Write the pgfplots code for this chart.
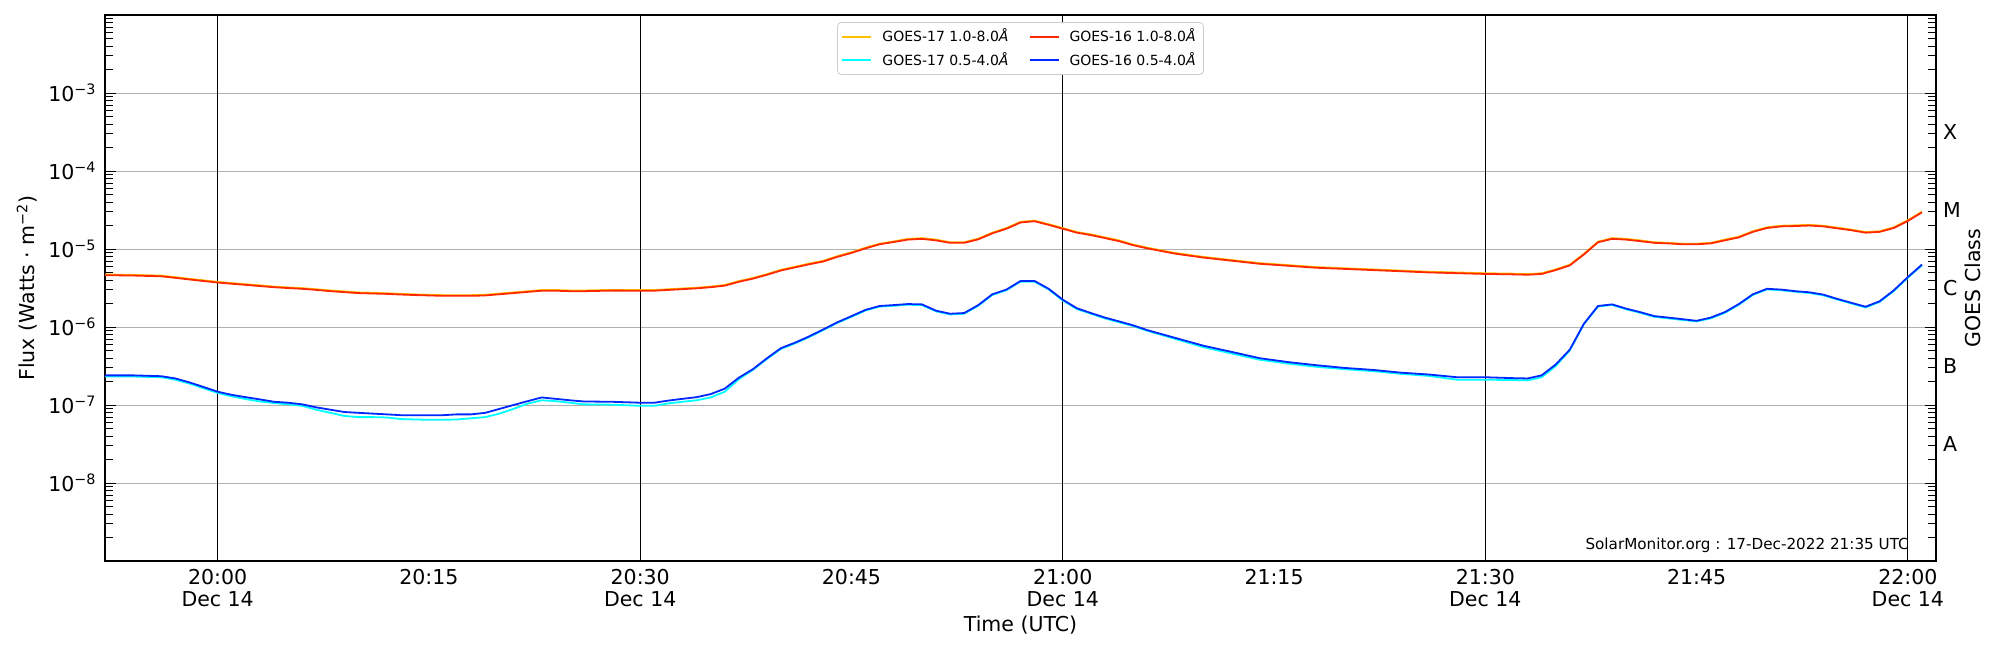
\documentclass[border=0pt]{standalone}
\usepackage{fontspec}
\setmainfont{DejaVu Sans}
\usepackage{pgfplots}
\pgfplotsset{compat=1.18}
\usepackage{pgfplotstable}
\definecolor{gorange}{RGB}{255,192,0}
\definecolor{gred}{RGB}{255,40,0}
\definecolor{gblue}{RGB}{0,40,255}
\definecolor{gcyan}{RGB}{0,255,255}
\definecolor{ggrid}{RGB}{176,176,176}

% t = minutes after 20:00 UTC; r = GOES-16 1-8, o = GOES-17 1-8, b = GOES-16 0.5-4, c = GOES-17 0.5-4
\pgfplotstableread{
t r o b c
-8 4.62e-6 4.71e-6 2.40e-7 2.32e-7
-6 4.57e-6 4.66e-6 2.40e-7 2.32e-7
-4 4.47e-6 4.56e-6 2.34e-7 2.27e-7
-3 4.27e-6 4.35e-6 2.19e-7 2.11e-7
-2 4.07e-6 4.15e-6 1.95e-7 1.88e-7
-1 3.89e-6 3.97e-6 1.70e-7 1.64e-7
0 3.72e-6 3.79e-6 1.48e-7 1.43e-7
1 3.59e-6 3.66e-6 1.35e-7 1.29e-7
2 3.47e-6 3.54e-6 1.26e-7 1.19e-7
3 3.35e-6 3.42e-6 1.18e-7 1.11e-7
4 3.24e-6 3.30e-6 1.10e-7 1.06e-7
5 3.16e-6 3.22e-6 1.07e-7 1.02e-7
6 3.09e-6 3.15e-6 1.02e-7 9.77e-8
7 2.99e-6 3.05e-6 9.33e-8 8.71e-8
8 2.88e-6 2.94e-6 8.71e-8 7.94e-8
9 2.80e-6 2.86e-6 8.13e-8 7.24e-8
10 2.72e-6 2.78e-6 7.94e-8 7.00e-8
11 2.69e-6 2.75e-6 7.76e-8 7.00e-8
12 2.66e-6 2.71e-6 7.59e-8 6.92e-8
13 2.61e-6 2.66e-6 7.41e-8 6.61e-8
14 2.57e-6 2.62e-6 7.41e-8 6.53e-8
15 2.54e-6 2.59e-6 7.41e-8 6.46e-8
16 2.51e-6 2.56e-6 7.41e-8 6.46e-8
17 2.51e-6 2.56e-6 7.59e-8 6.53e-8
18 2.51e-6 2.56e-6 7.59e-8 6.76e-8
19 2.54e-6 2.59e-6 7.94e-8 7.00e-8
20 2.63e-6 2.68e-6 8.91e-8 7.76e-8
21 2.72e-6 2.78e-6 1.00e-7 8.91e-8
22 2.82e-6 2.87e-6 1.12e-7 1.04e-7
23 2.92e-6 2.98e-6 1.25e-7 1.15e-7
24 2.92e-6 2.98e-6 1.20e-7 1.12e-7
25 2.88e-6 2.94e-6 1.15e-7 1.07e-7
26 2.88e-6 2.94e-6 1.11e-7 1.02e-7
28 2.93e-6 2.99e-6 1.10e-7 1.01e-7
30 2.92e-6 2.98e-6 1.07e-7 9.77e-8
31 2.92e-6 2.98e-6 1.07e-7 9.77e-8
32 2.99e-6 3.05e-6 1.14e-7 1.05e-7
33 3.06e-6 3.12e-6 1.20e-7 1.10e-7
34 3.13e-6 3.19e-6 1.26e-7 1.15e-7
35 3.24e-6 3.30e-6 1.38e-7 1.25e-7
36 3.39e-6 3.46e-6 1.62e-7 1.48e-7
37 3.80e-6 3.88e-6 2.24e-7 2.14e-7
38 4.17e-6 4.25e-6 2.88e-7 2.82e-7
39 4.68e-6 4.77e-6 3.98e-7 3.89e-7
40 5.31e-6 5.42e-6 5.37e-7 5.25e-7
41 5.82e-6 5.94e-6 6.31e-7 6.18e-7
42 6.38e-6 6.51e-6 7.59e-7 7.43e-7
43 6.92e-6 7.06e-6 9.33e-7 9.15e-7
44 7.94e-6 8.10e-6 1.15e-6 1.13e-6
45 8.91e-6 9.09e-6 1.38e-6 1.35e-6
46 1.02e-5 1.04e-5 1.66e-6 1.63e-6
47 1.15e-5 1.17e-5 1.86e-6 1.83e-6
48 1.23e-5 1.25e-5 1.91e-6 1.87e-6
49 1.32e-5 1.35e-5 1.97e-6 1.93e-6
50 1.35e-5 1.38e-5 1.95e-6 1.91e-6
51 1.29e-5 1.32e-5 1.62e-6 1.59e-6
52 1.20e-5 1.22e-5 1.48e-6 1.45e-6
53 1.20e-5 1.22e-5 1.51e-6 1.48e-6
54 1.33e-5 1.36e-5 1.91e-6 1.87e-6
55 1.59e-5 1.62e-5 2.63e-6 2.58e-6
56 1.82e-5 1.86e-5 3.02e-6 2.96e-6
57 2.19e-5 2.23e-5 3.89e-6 3.81e-6
58 2.27e-5 2.31e-5 3.89e-6 3.81e-6
59 2.04e-5 2.08e-5 3.09e-6 3.03e-6
60 1.82e-5 1.86e-5 2.24e-6 2.19e-6
61 1.62e-5 1.65e-5 1.74e-6 1.70e-6
62 1.51e-5 1.54e-5 1.51e-6 1.48e-6
63 1.38e-5 1.41e-5 1.32e-6 1.29e-6
64 1.26e-5 1.29e-5 1.18e-6 1.15e-6
65 1.12e-5 1.14e-5 1.05e-6 1.03e-6
66 1.02e-5 1.04e-5 9.12e-7 8.94e-7
68 8.71e-6 8.88e-6 7.24e-7 7.03e-7
70 7.76e-6 7.92e-6 5.75e-7 5.50e-7
72 7.08e-6 7.22e-6 4.79e-7 4.57e-7
74 6.46e-6 6.59e-6 3.98e-7 3.80e-7
76 6.10e-6 6.22e-6 3.55e-7 3.39e-7
78 5.75e-6 5.87e-6 3.24e-7 3.09e-7
80 5.56e-6 5.67e-6 2.99e-7 2.88e-7
82 5.37e-6 5.48e-6 2.82e-7 2.72e-7
84 5.19e-6 5.29e-6 2.60e-7 2.51e-7
86 5.01e-6 5.11e-6 2.46e-7 2.36e-7
88 4.90e-6 5.00e-6 2.27e-7 2.11e-7
90 4.79e-6 4.89e-6 2.27e-7 2.11e-7
92 4.73e-6 4.83e-6 2.21e-7 2.09e-7
93 4.68e-6 4.77e-6 2.19e-7 2.07e-7
94 4.79e-6 4.89e-6 2.40e-7 2.27e-7
95 5.37e-6 5.48e-6 3.31e-7 3.16e-7
96 6.17e-6 6.29e-6 5.13e-7 5.01e-7
97 8.51e-6 8.68e-6 1.10e-6 1.09e-6
98 1.22e-5 1.24e-5 1.86e-6 1.83e-6
99 1.35e-5 1.38e-5 1.95e-6 1.92e-6
100 1.32e-5 1.35e-5 1.72e-6 1.69e-6
101 1.26e-5 1.29e-5 1.55e-6 1.52e-6
102 1.20e-5 1.22e-5 1.38e-6 1.35e-6
103 1.18e-5 1.20e-5 1.32e-6 1.29e-6
104 1.15e-5 1.17e-5 1.26e-6 1.23e-6
105 1.15e-5 1.17e-5 1.20e-6 1.18e-6
106 1.18e-5 1.20e-5 1.32e-6 1.29e-6
107 1.29e-5 1.32e-5 1.55e-6 1.52e-6
108 1.41e-5 1.44e-5 1.97e-6 1.93e-6
109 1.66e-5 1.69e-5 2.63e-6 2.58e-6
110 1.86e-5 1.90e-5 3.09e-6 3.03e-6
111 1.95e-5 1.99e-5 3.02e-6 2.96e-6
112 1.97e-5 2.01e-5 2.88e-6 2.83e-6
113 2.00e-5 2.04e-5 2.79e-6 2.73e-6
114 1.95e-5 1.99e-5 2.60e-6 2.55e-6
115 1.84e-5 1.88e-5 2.29e-6 2.25e-6
116 1.74e-5 1.77e-5 2.04e-6 2.00e-6
117 1.62e-5 1.65e-5 1.82e-6 1.78e-6
118 1.66e-5 1.69e-5 2.14e-6 2.10e-6
119 1.86e-5 1.90e-5 2.95e-6 2.89e-6
120 2.29e-5 2.34e-5 4.37e-6 4.28e-6
121 2.95e-5 3.01e-5 6.31e-6 6.18e-6
}\goes

\begin{document}
\begin{tikzpicture}
\path[use as bounding box] (-52.5pt,-44.5pt) rectangle (947.5pt,280.5pt);
\begin{axis}[
  scale only axis, width=915.5pt, height=273pt,
  xmin=-8, xmax=122,
  ymode=log, ymin=1e-9, ymax=1e-2,
  xtick={0,15,30,45,60,75,90,105,120},
  xticklabels={20:00\\Dec 14,20:15,20:30\\Dec 14,20:45,21:00\\Dec 14,21:15,21:30\\Dec 14,21:45,22:00\\Dec 14},
  xtick style={draw=none},
  xticklabel style={align=center, font=\fontsize{10.25}{10.75}\selectfont, inner sep=0pt, yshift=-4pt},
  ytick={1e-9,1e-8,1e-7,1e-6,1e-5,1e-4,1e-3,1e-2},
  yticklabels={{},10\textsuperscript{−8},10\textsuperscript{−7},10\textsuperscript{−6},10\textsuperscript{−5},10\textsuperscript{−4},10\textsuperscript{−3},{}},
  yticklabel style={font=\fontsize{10.25}{12}\selectfont, inner sep=0pt, xshift=-4pt},
  ymajorgrids, major grid style={ggrid, line width=0.5pt},
  major tick length=5.5pt, minor tick length=4pt,
  tick style={black, line width=0.5pt},
  axis line style={line width=0.6pt},
  xlabel={Time (UTC)},
  ylabel={Flux (Watts · m\textsuperscript{−2})},
  label style={font=\fontsize{10.25}{12}\selectfont},
  xlabel style={at={(axis description cs:0.5,-0.117)}, anchor=center},
  ylabel style={at={(axis description cs:-0.0426,0.5)}, anchor=center},
  legend columns=2,
  legend image code/.code={\draw[#1, line width=1pt] (0pt,0pt) -- (14.5pt,0pt);},
  legend style={at={(axis description cs:0.5,0.987)}, anchor=north,
    font=\fontsize{7}{8}\selectfont, draw=black!20, rounded corners=2pt,
    fill=white, inner xsep=2pt, inner ysep=1pt, row sep=0pt,
    /tikz/every even column/.append style={column sep=8pt},
    /tikz/every odd column/.append style={column sep=3pt}},
  legend cell align=left,
]
\addplot[black, line width=0.6pt, forget plot] coordinates {(0,1e-9) (0,1e-2)};
\addplot[black, line width=0.6pt, forget plot] coordinates {(30,1e-9) (30,1e-2)};
\addplot[black, line width=0.6pt, forget plot] coordinates {(60,1e-9) (60,1e-2)};
\addplot[black, line width=0.6pt, forget plot] coordinates {(90,1e-9) (90,1e-2)};
\addplot[black, line width=0.6pt, forget plot] coordinates {(120,1e-9) (120,1e-2)};
\addplot[gorange, line width=0.9pt] table[x=t, y=o] {\goes};
\addlegendentry{GOES-17 1.0-8.0\textit{Å}}
\addplot[gred, line width=0.9pt] table[x=t, y=r] {\goes};
\addlegendentry{GOES-16 1.0-8.0\textit{Å}}
\addplot[gcyan, line width=0.9pt] table[x=t, y=c] {\goes};
\addlegendentry{GOES-17 0.5-4.0\textit{Å}}
\addplot[gblue, line width=0.9pt] table[x=t, y=b] {\goes};
\addlegendentry{GOES-16 0.5-4.0\textit{Å}}
\node[anchor=base east, font=\fontsize{7.6}{9}\selectfont] at (rel axis cs:0.989,0.022) {SolarMonitor.org : 17-Dec-2022 21:35 UTC};
\end{axis}
\begin{axis}[
  scale only axis, width=915.5pt, height=273pt,
  xmin=0, xmax=1,
  ymode=log, ymin=1e-9, ymax=1e-2,
  axis x line=none, axis y line*=right,
  y axis line style={draw=none},
  ytick={3.1623e-8,3.1623e-7,3.1623e-6,3.1623e-5,3.1623e-4},
  yticklabels={A,B,C,M,X},
  yminorticks=false, major tick length=0pt,
  yticklabel style={font=\fontsize{10.25}{12}\selectfont},
  ylabel={GOES Class},
  ylabel style={font=\fontsize{10.25}{12}\selectfont, at={(axis description cs:1.0202,0.5)}, anchor=center},
]
\addplot[draw=none] coordinates {(0.5,1e-5)};
\end{axis}
\end{tikzpicture}
\end{document}
